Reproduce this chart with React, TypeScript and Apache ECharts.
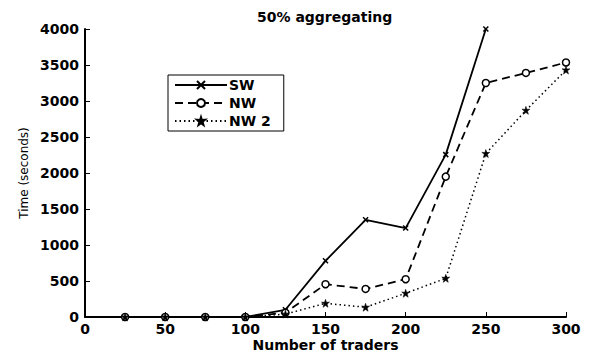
import React, { useEffect, useRef } from "react";
import * as echarts from "echarts";

const traders = [25, 50, 75, 100, 125, 150, 175, 200, 225, 250, 275, 300];
const swValues = [0, 0, 0, 0, 100, 780, 1350, 1235, 2255, 4000];
const nwValues = [0, 0, 0, 0, 60, 455, 390, 525, 1950, 3250, 3390, 3535];
const nw2Values = [0, 0, 0, 0, 40, 190, 135, 330, 537, 2270, 2870, 3430];
const xTicks = [0, 50, 100, 150, 200, 250, 300];
const yTicks = [0, 500, 1000, 1500, 2000, 2500, 3000, 3500, 4000];

const xSymbol = "path://M0,0L10,10M10,0L0,10";
const starSymbol =
  "path://M5,0L6.2,3.4L10,3.1L7,5.4L8.1,9L5,7L1.9,9L3,5.4L0,3.1L3.8,3.4Z";

const FONT = "DejaVu Sans, Verdana, sans-serif";

export default function App() {
  const ref = useRef<HTMLDivElement>(null);
  useEffect(() => {
    if (!ref.current) return;
    const chart = echarts.init(ref.current, undefined, { renderer: "svg" });
    const pair = (vals: number[]) => vals.map((v, i) => [traders[i], v]);
    chart.setOption({
      animation: false,
      backgroundColor: "#fff",
      title: {
        text: "50% aggregating",
        left: 252,
        top: 5,
        textStyle: { fontFamily: FONT, fontSize: 14, fontWeight: "bold", color: "#000" },
      },
      legend: {
        orient: "vertical",
        left: 168,
        top: 75,
        padding: [3, 13, 3, 6],
        itemGap: 4,
        itemWidth: 52,
        itemHeight: 10,
        borderColor: "#000",
        borderWidth: 1,
        backgroundColor: "#fff",
        textStyle: {
          fontFamily: FONT,
          fontSize: 14,
          fontWeight: "bold",
          color: "#000",
          padding: [0, 0, 0, -3],
        },
        data: ["SW", "NW", "NW 2"],
      },
      grid: { left: 85, right: 24, top: 29, bottom: 36, outerBoundsMode: "none", containLabel: false },
      xAxis: {
        type: "value",
        min: 0,
        max: 300,
        interval: 50,
        name: "Number of traders",
        nameLocation: "middle",
        nameGap: 21,
        nameMoveOverlap: false,
        nameTextStyle: {
          fontFamily: FONT,
          fontSize: 14,
          lineHeight: 14,
          fontWeight: "bold",
          color: "#000",
          verticalAlign: "top",
        },
        axisLine: { lineStyle: { color: "#000", width: 2 } },
        axisTick: { inside: true, length: 5, lineStyle: { color: "#000" } },
        axisLabel: {
          fontFamily: FONT,
          fontSize: 14,
          fontWeight: "bold",
          color: "#000",
          margin: 5,
          formatter: (v: number) => (xTicks.includes(v) ? String(v) : ""),
        },
        splitLine: { show: false },
      },
      yAxis: {
        type: "value",
        min: 0,
        max: 4000,
        interval: 500,
        name: "Time (seconds)",
        nameLocation: "middle",
        nameGap: 55,
        nameMoveOverlap: false,
        nameTextStyle: { fontFamily: FONT, fontSize: 12, color: "#000" },
        axisLine: { lineStyle: { color: "#000", width: 2 } },
        axisTick: { inside: true, length: 5, lineStyle: { color: "#000" } },
        axisLabel: {
          fontFamily: FONT,
          fontSize: 14,
          fontWeight: "bold",
          color: "#000",
          margin: 6,
          formatter: (v: number) => (yTicks.includes(v) ? String(v) : ""),
        },
        splitLine: { show: false },
      },
      series: [
        {
          name: "SW",
          type: "line",
          data: pair(swValues),
          symbol: xSymbol,
          symbolSize: 5,
          color: "#000",
          lineStyle: { color: "#000", width: 1.8, type: "solid" },
          itemStyle: { color: "#000", borderColor: "#000", borderWidth: 1.5 },
        },
        {
          name: "NW",
          type: "line",
          data: pair(nwValues),
          symbol: "circle",
          symbolSize: 7,
          color: "#000",
          lineStyle: { color: "#000", width: 1.8, type: [8, 5] },
          itemStyle: { color: "#fff", borderColor: "#000", borderWidth: 1.5 },
        },
        {
          name: "NW 2",
          type: "line",
          data: pair(nw2Values),
          symbol: starSymbol,
          symbolSize: 8,
          color: "#000",
          lineStyle: { color: "#000", width: 1.5, type: [1.5, 3] },
          itemStyle: { color: "#000", borderColor: "#000", borderWidth: 0.5 },
        },
      ],
    });
    return () => chart.dispose();
  }, []);
  return (
    <div
      ref={ref}
      style={{ position: "fixed", left: 0, top: 0, width: 590, height: 353 }}
    />
  );
}
